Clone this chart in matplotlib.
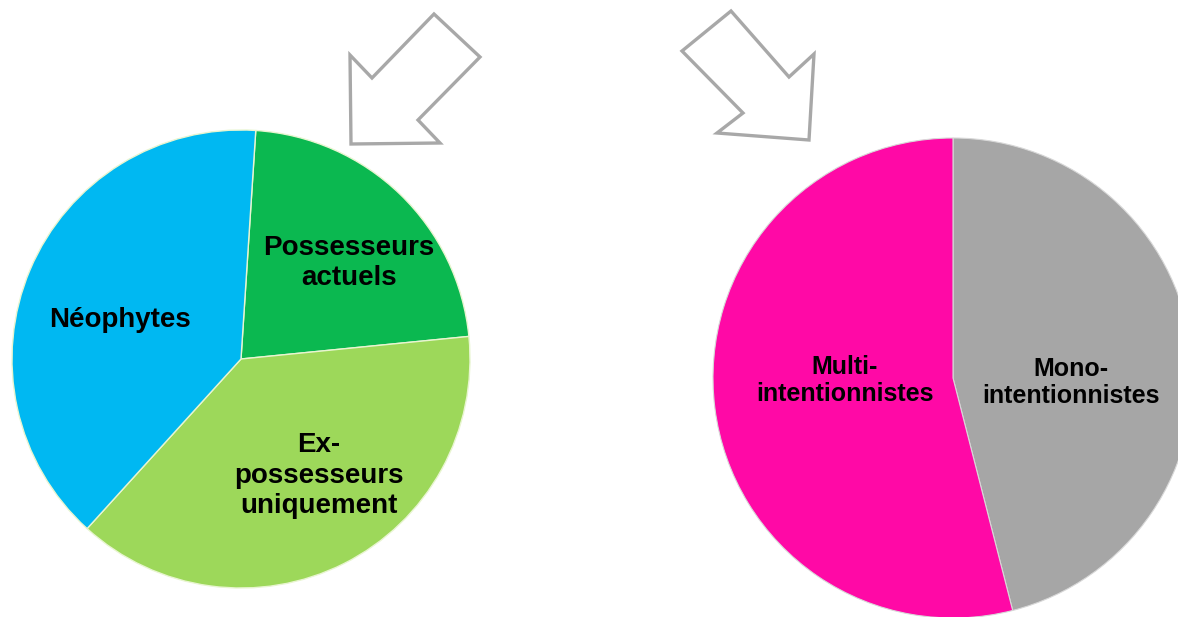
import matplotlib.pyplot as plt
from matplotlib.patches import Polygon

plt.rcParams['font.family'] = ['Liberation Sans', 'DejaVu Sans']

# Left pie: possession status (share of respondents, %)
left_labels = ['Possesseurs\nactuels', 'Ex-\npossesseurs\nuniquement', 'Néophytes']
left_values = [22.4, 38.3, 39.3]
left_colors = ['#0BB850', '#9DD85A', '#00B8F2']

# Right pie: purchase intentions (%)
right_labels = ['Mono-\nintentionnistes', 'Multi-\nintentionnistes']
right_values = [46.0, 54.0]
right_colors = ['#A6A6A6', '#FF09A6']

W, H = 1178, 617
fig = plt.figure(figsize=(W / 100, H / 100), dpi=100)


def pie_axes(cx, cy, r):
    # cx, cy, r in pixels (y from top)
    return fig.add_axes([(cx - r) / W, (H - cy - r) / H, 2 * r / W, 2 * r / H])


def finish(ax):
    ax.set_xlim(-1, 1)
    ax.set_ylim(-1, 1)
    ax.axis('off')


# left pie
ax1 = pie_axes(241, 359, 229)
ax1.pie(left_values, colors=left_colors, startangle=86.3, counterclock=False,
        radius=1, wedgeprops=dict(edgecolor='#e8f5d0', linewidth=1.0))
finish(ax1)
left_pos = [(0.47, 0.42), (0.34, -0.51), (-0.53, 0.17)]
for (x, y), lab in zip(left_pos, left_labels):
    ax1.text(x, y, lab, ha='center', va='center', fontsize=20,
             fontweight='bold', linespacing=1.22, color='black')

# right pie
ax2 = pie_axes(953, 378, 240)
ax2.pie(right_values, colors=right_colors, startangle=90, counterclock=False,
        radius=1, wedgeprops=dict(edgecolor='#d8d8d8', linewidth=0.8))
finish(ax2)
right_pos = [(0.49, -0.02), (-0.45, -0.01)]
for (x, y), lab in zip(right_pos, right_labels):
    ax2.text(x, y, lab, ha='center', va='center', fontsize=18,
             fontweight='bold', linespacing=1.15, color='black')

# decorative outline arrows pointing to each pie
ov = fig.add_axes([0, 0, 1, 1])
ov.set_xlim(0, W)
ov.set_ylim(H, 0)
ov.axis('off')
arrow_left = [(350, 55), (372, 78), (434, 14), (480, 57), (418, 120), (440, 143), (351, 144)]
arrow_right = [(731, 11), (682, 51), (743, 113), (717, 133), (809, 140), (814, 54), (789, 77)]
for pts in (arrow_left, arrow_right):
    ov.add_patch(Polygon(pts, closed=True, facecolor='white', edgecolor='#A8A8A8',
                         linewidth=2.4, joinstyle='miter'))

fig.savefig('out.png', dpi=100, facecolor='white')
